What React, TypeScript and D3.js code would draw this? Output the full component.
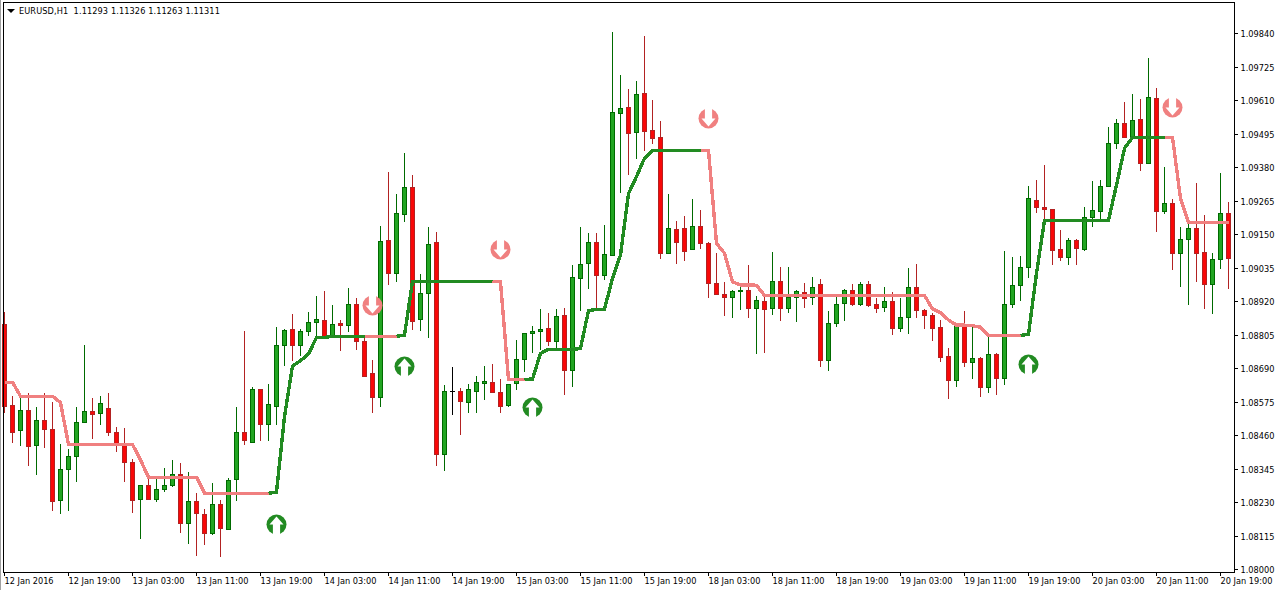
import React, { useEffect, useRef } from 'react';
import * as d3 from 'd3';

// prices are kept as 5-digit points above 1.08000
const basePrice = 1.08;
const opens = [
  841, 563, 476, 546, 424, 510, 479, 236, 345, 387, 503, 541, 534, 551, 472, 424, 369, 239, 287, 242,
  273, 287, 325, 157, 232, 188, 122, 222, 138, 308, 472, 437, 617, 497, 558, 768, 823, 768, 816, 847,
  854, 802, 844, 836, 909, 782, 672, 589, 1128, 1015, 1217, 1310, 857, 946, 1121, 394, 610, 610, 574, 612,
  637, 641, 606, 564, 637, 720, 809, 816, 826, 781, 871, 682, 998, 1049, 1121, 1008, 1079, 1564, 1585, 1499,
  1633, 1506, 1482, 1084, 1166, 1169, 1097, 1176, 1118, 981, 943, 933, 953, 957, 897, 919, 895, 988, 895, 933,
  950, 933, 977, 716, 843, 912, 957, 909, 977, 909, 898, 919, 826, 864, 967, 888, 871, 830, 730, 648,
  837, 709, 723, 624, 737, 655, 909, 974, 1036, 1266, 1241, 1235, 1097, 1070, 1128, 1097, 1207, 1228, 1314, 1461,
  1530, 1482, 1544, 1393, 1616, 1228, 1255, 1084, 1132, 1169, 1087, 977, 1063, 1221,
];
const highs = [
  882, 594, 586, 603, 556, 603, 573, 429, 412, 556, 769, 587, 593, 604, 486, 484, 376, 287, 311, 309,
  347, 374, 364, 333, 260, 206, 294, 237, 311, 556, 817, 624, 617, 635, 831, 823, 875, 823, 881, 937,
  954, 906, 854, 963, 929, 792, 717, 1177, 1362, 1286, 1427, 1351, 1011, 1173, 1156, 630, 692, 620, 634, 661,
  696, 703, 651, 634, 786, 809, 834, 893, 878, 891, 895, 1042, 1174, 1152, 1152, 1180, 1842, 1695, 1647, 1674,
  1829, 1610, 1537, 1286, 1195, 1211, 1269, 1231, 1121, 1084, 984, 957, 970, 1042, 936, 935, 1088, 1036, 1036, 958,
  982, 1002, 996, 886, 935, 960, 978, 984, 988, 929, 968, 951, 929, 1033, 1047, 891, 878, 855, 759, 843,
  886, 837, 727, 798, 740, 1092, 1070, 1074, 1315, 1335, 1386, 1235, 1163, 1135, 1132, 1241, 1331, 1334, 1516, 1544,
  1603, 1631, 1612, 1754, 1650, 1379, 1269, 1173, 1187, 1324, 1214, 1084, 1358, 1259,
];
const lows = [
  537, 434, 423, 355, 324, 416, 200, 190, 200, 300, 503, 447, 495, 458, 403, 300, 193, 104, 237, 231,
  265, 283, 125, 87, 46, 83, 118, 42, 135, 234, 427, 434, 441, 441, 495, 698, 714, 732, 801, 797,
  792, 792, 749, 814, 752, 660, 535, 557, 976, 986, 1192, 820, 818, 794, 355, 337, 530, 461, 537, 537,
  581, 605, 537, 557, 616, 677, 741, 751, 767, 757, 598, 626, 887, 962, 891, 993, 1076, 1292, 1354, 1409,
  1436, 1460, 1065, 1084, 1048, 1058, 1097, 1100, 931, 943, 870, 863, 890, 863, 739, 743, 873, 853, 880, 849,
  896, 907, 695, 681, 832, 853, 904, 904, 901, 880, 883, 804, 815, 808, 863, 825, 784, 712, 585, 626,
  695, 653, 592, 605, 598, 633, 897, 921, 1000, 1223, 1198, 1045, 1058, 1045, 1045, 1093, 1175, 1198, 1310, 1443,
  1482, 1478, 1367, 1389, 1158, 1220, 1026, 969, 907, 986, 894, 876, 1031, 962,
];
const closes = [
  561, 471, 545, 423, 510, 479, 234, 345, 387, 503, 541, 533, 569, 472, 432, 368, 238, 287, 241, 273,
  287, 325, 157, 232, 191, 122, 222, 140, 304, 472, 442, 617, 497, 565, 768, 819, 768, 816, 847, 857,
  797, 840, 836, 909, 782, 664, 592, 1125, 1015, 1221, 1310, 852, 946, 1114, 394, 610, 610, 578, 617, 641,
  644, 609, 561, 634, 720, 809, 816, 823, 781, 867, 682, 1001, 1046, 1121, 1008, 1080, 1568, 1581, 1496, 1629,
  1505, 1481, 1084, 1169, 1121, 1093, 1176, 1118, 981, 943, 933, 953, 957, 897, 922, 891, 988, 895, 933, 953,
  929, 967, 719, 843, 909, 957, 911, 977, 905, 897, 919, 826, 864, 967, 888, 871, 829, 727, 648, 837,
  709, 723, 624, 737, 655, 909, 974, 1036, 1272, 1241, 1235, 1094, 1070, 1128, 1101, 1207, 1231, 1314, 1461, 1530,
  1482, 1540, 1393, 1619, 1228, 1255, 1084, 1132, 1169, 1084, 977, 1063, 1221, 1066,
];

// step-like trend line, one value per candle
const trendValues = [
  641, 641, 593, 593, 593, 593, 593, 571, 428, 428, 428, 428, 428, 428, 428, 428, 428, 374, 315, 315,
  315, 315, 315, 315, 315, 260, 260, 260, 260, 260, 260, 260, 260, 260, 264, 523, 697, 715, 738, 795,
  795, 799, 799, 799, 799, 799, 799, 799, 799, 799, 803, 987, 987, 987, 987, 987, 987, 987, 987, 987,
  987, 987, 986, 651, 651, 651, 652, 740, 754, 754, 754, 754, 757, 887, 891, 892, 998, 1078, 1289, 1347,
  1410, 1437, 1437, 1437, 1437, 1437, 1437, 1437, 1437, 1118, 1084, 986, 975, 975, 974, 939, 939, 939, 939, 939,
  939, 939, 939, 939, 939, 939, 939, 939, 939, 939, 939, 939, 939, 939, 939, 939, 893, 880, 855, 837,
  837, 835, 830, 802, 802, 802, 802, 802, 806, 1015, 1197, 1197, 1197, 1197, 1197, 1197, 1197, 1197, 1197, 1318,
  1444, 1482, 1482, 1482, 1482, 1482, 1482, 1272, 1190, 1190, 1190, 1190, 1190, 1190,
];
// [first candle, last candle, direction]
const trendRuns: [number, number, string][] = [
  [0, 33, 'down'], [33, 45, 'up'], [45, 49, 'down'], [49, 61, 'up'], [61, 65, 'down'],
  [65, 87, 'up'], [87, 127, 'down'], [127, 145, 'up'], [145, 153, 'down'],
];

// signal icons: [candle, points]
const upSignals = [[34, 154], [50, 697], [66, 556], [128, 704]];
const downSignals = [[46, 906], [62, 1099], [88, 1548], [146, 1586]];

const priceTicks = [
  1.09840, 1.09725, 1.09610, 1.09495, 1.09380, 1.09265, 1.09150, 1.09035, 1.08920,
  1.08805, 1.08690, 1.08575, 1.08460, 1.08345, 1.08230, 1.08115, 1.08000,
];
const timeTickIndex = [0, 8, 16, 24, 32, 40, 48, 56, 64, 72, 80, 88, 96, 104, 112, 120, 128, 136, 144, 152];
const timeTickLabels = [
  '12 Jan 2016', '12 Jan 19:00', '13 Jan 03:00', '13 Jan 11:00', '13 Jan 19:00', '14 Jan 03:00', '14 Jan 11:00',
  '14 Jan 19:00', '15 Jan 03:00', '15 Jan 11:00', '15 Jan 19:00', '18 Jan 03:00', '18 Jan 11:00', '18 Jan 19:00',
  '19 Jan 03:00', '19 Jan 11:00', '19 Jan 19:00', '20 Jan 03:00', '20 Jan 11:00', '20 Jan 19:00',
];
const title = 'EURUSD,H1  1.11293 1.11326 1.11263 1.11311';

const upBody = '#22A522';
const upEdge = '#006A00';
const downBody = '#F80808';
const downEdge = '#B22222';
const trendUp = '#228B22';
const trendDown = '#F08080';
const font = '"DejaVu Sans", sans-serif';
const fontSize = '8.2px';

const App = () => {
  const svgRef = useRef<SVGSVGElement>(null);

  useEffect(() => {
    const width = 1275;
    const height = 590;
    const plot = { left: 3, top: 2, right: 1234, bottom: 572 };

    const svg = d3.select(svgRef.current);
    svg.selectAll('*').remove();
    svg.attr('width', width).attr('height', height);

    const xScale = d3.scaleLinear().domain([0, 153]).range([4, 1228]);
    const yScale = d3.scaleLinear().domain([basePrice, 1.0984]).range([569, 33]);
    const yPts = (p: number) => yScale(basePrice + p / 1e5);
    const snap = (v: number) => Math.round(v);

    svg.append('rect').attr('width', width).attr('height', height).attr('fill', '#fff');
    svg.append('rect').attr('width', 1).attr('height', height).attr('fill', '#a0a0a0');

    //candles
    const candles = svg.append('g').attr('shape-rendering', 'crispEdges');
    opens.forEach((open, i) => {
      const close = closes[i];
      const px = xScale(i);
      const top = snap(yPts(Math.max(open, close)));
      const bottom = snap(yPts(Math.min(open, close)));
      const isDoji = open === close;
      const isUp = close > open;
      const edge = isDoji ? '#000' : isUp ? upEdge : downEdge;

      candles.append('rect')
        .attr('x', px)
        .attr('y', snap(yPts(highs[i])))
        .attr('width', 1)
        .attr('height', Math.max(1, snap(yPts(lows[i])) - snap(yPts(highs[i]))))
        .attr('fill', edge);

      if (isDoji) {
        candles.append('rect')
          .attr('x', px - 2)
          .attr('y', top)
          .attr('width', 5)
          .attr('height', 1)
          .attr('fill', edge);
      } else {
        candles.append('rect')
          .attr('x', px - 1.5)
          .attr('y', top + 0.5)
          .attr('width', 4)
          .attr('height', Math.max(1, bottom - top))
          .attr('fill', isUp ? upBody : downBody)
          .attr('stroke', edge)
          .attr('stroke-width', 1);
      }
    });

    //trend line, cut in runs so each keeps its colour
    const line = d3.line<number>()
      .x(i => xScale(i) + 0.5)
      .y(i => yPts(trendValues[i]));

    trendRuns.forEach(([from, to, dir]) => {
      svg.append('path')
        .attr('d', line(d3.range(from, to + 1)))
        .attr('fill', 'none')
        .attr('stroke', dir === 'up' ? trendUp : trendDown)
        .attr('stroke-width', 3.4)
        .attr('shape-rendering', 'crispEdges');
    });

    //signal icons, dir flips the arrow
    const drawSignal = (i: number, p: number, dir: number, color: string) => {
      const g = svg.append('g').attr('transform', `translate(${xScale(i) + 0.5},${snap(yPts(p)) + 0.5})`);
      g.append('circle').attr('r', 10).attr('fill', color);
      g.append('path')
        .attr('d', `M0,${-8 * dir}L-7,${0 * dir}L-3.6,${0 * dir}L-3.6,${11 * dir}L3.6,${11 * dir}L3.6,${0 * dir}L7,${0 * dir}Z`)
        .attr('fill', '#fff');
    };
    upSignals.forEach(([i, p]) => drawSignal(i, p, 1, trendUp));
    downSignals.forEach(([i, p]) => drawSignal(i, p, -1, trendDown));

    //frame
    svg.append('rect')
      .attr('x', plot.left + 0.5)
      .attr('y', plot.top + 0.5)
      .attr('width', plot.right - plot.left)
      .attr('height', plot.bottom - plot.top)
      .attr('fill', 'none')
      .attr('stroke', '#000')
      .attr('shape-rendering', 'crispEdges');

    //price axis
    const yAxis = d3.axisRight(yScale)
      .tickValues(priceTicks)
      .tickSize(3)
      .tickPadding(3)
      .tickFormat(d3.format('.5f') as any);
    const yAxisG = svg.append('g')
      .attr('transform', `translate(${plot.right + 0.5},0)`)
      .call(yAxis as any);
    yAxisG.select('.domain').remove();
    yAxisG.selectAll('line').attr('stroke', '#000').attr('shape-rendering', 'crispEdges');
    yAxisG.selectAll('text')
      .attr('font-family', font)
      .attr('font-size', fontSize)
      .attr('fill', '#000')
      .attr('dy', '0.45em');

    //time axis
    const xAxis = d3.axisBottom(xScale)
      .tickValues(timeTickIndex)
      .tickSize(3)
      .tickPadding(3)
      .tickFormat((_, i) => timeTickLabels[i]);
    const xAxisG = svg.append('g')
      .attr('transform', `translate(0,${plot.bottom + 0.5})`)
      .call(xAxis as any);
    xAxisG.select('.domain').remove();
    xAxisG.selectAll('line').attr('stroke', '#000').attr('shape-rendering', 'crispEdges');
    xAxisG.selectAll('text')
      .attr('font-family', font)
      .attr('font-size', fontSize)
      .attr('fill', '#000')
      .attr('text-anchor', 'start');

    //title
    svg.append('path').attr('d', 'M7,9L15,9L11,13Z').attr('fill', '#000');
    svg.append('text')
      .attr('x', 19)
      .attr('y', 14)
      .attr('font-family', font)
      .attr('font-size', fontSize)
      .attr('letter-spacing', '0.1px')
      .attr('fill', '#000')
      .style('white-space', 'pre')
      .text(title);
  }, []);

  return <svg ref={svgRef} style={{ position: 'absolute', left: 0, top: 0, display: 'block' }}></svg>;
};

export default App;
